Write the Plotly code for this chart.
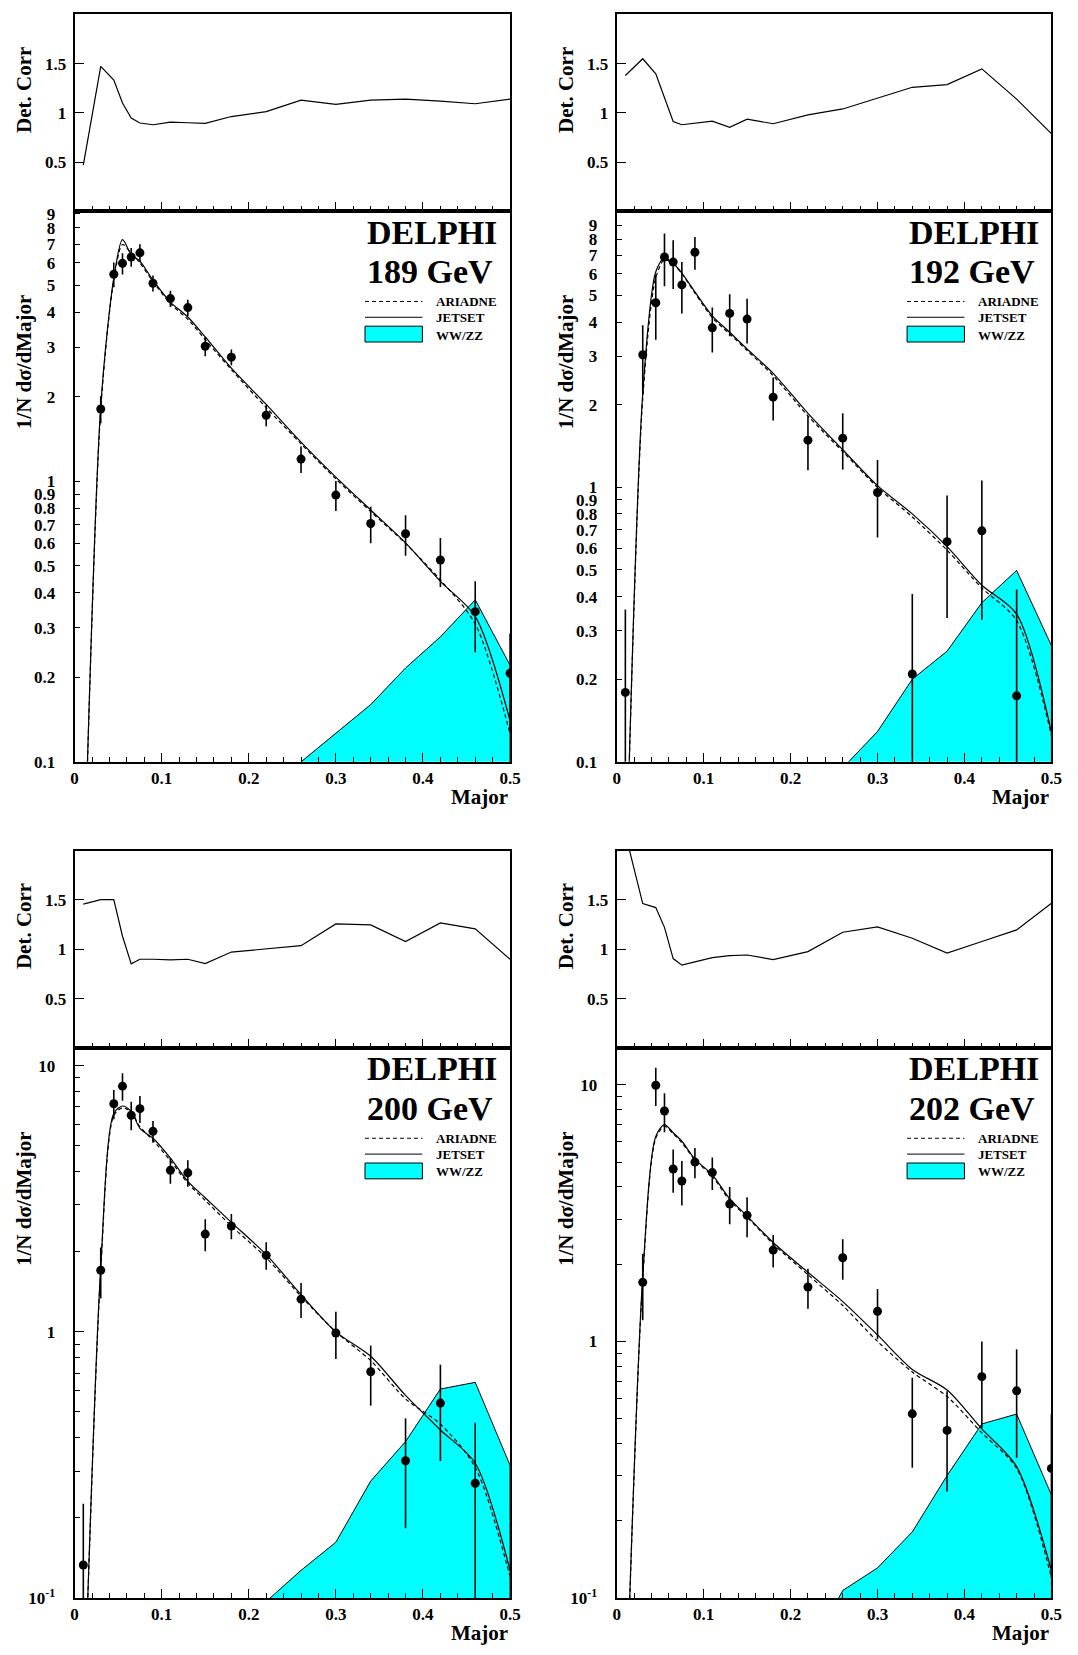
import plotly.graph_objects as go

W, H = 1078, 1655

# ---------------- data ----------------
bin_x = [0.01, 0.03, 0.045, 0.055, 0.065, 0.075, 0.09, 0.11, 0.13, 0.15,
         0.18, 0.22, 0.26, 0.30, 0.34, 0.38, 0.42, 0.46, 0.50]
ww_x = [0.18, 0.22, 0.26, 0.30, 0.34, 0.38, 0.42, 0.46, 0.50]

labels = ["189 GeV", "192 GeV", "200 GeV", "202 GeV"]

# 189 GeV
data_189 = [None, 1.81, 5.47, 5.98, 6.30, 6.52, 5.08, 4.48, 4.16, 3.03, 2.77, 1.72, 1.20, 0.893, 0.707, 0.650, 0.524, 0.343, 0.207]
err_189 = [None, 0.2, 0.55, 0.52, 0.48, 0.48, 0.33, 0.30, 0.28, 0.24, 0.18, 0.15, 0.13, 0.11, 0.105, 0.107, 0.104, 0.097, 0.08]
jetset_189 = [0.03, 1.85, 5.3, 7.27, 6.43, 6.09, 5.21, 4.35, 3.85, 3.27, 2.53, 1.88, 1.38, 1.035, 0.79, 0.603, 0.44, 0.33, 0.14]
ariadne_189 = [0.03, 1.8, 5.2, 6.98, 6.5, 6.0, 5.15, 4.3, 3.78, 3.2, 2.5, 1.83, 1.36, 1.02, 0.78, 0.60, 0.445, 0.31, 0.126]
ww_189 = [0.03, 0.05, 0.1, 0.126, 0.16, 0.216, 0.279, 0.378, 0.221]
corr_189 = [0.47, 1.473, 1.333, 1.10, 0.947, 0.897, 0.88, 0.907, 0.90, 0.893, 0.963, 1.013, 1.13, 1.087, 1.13, 1.14, 1.12, 1.093, 1.14]

# 192 GeV
data_192 = [0.179, 3.04, 4.70, 6.90, 6.61, 5.46, 7.18, 3.81, 4.30, 4.10, 2.13, 1.485, 1.51, 0.957, 0.209, 0.634, 0.694, 0.174, None]
err_192 = [0.18, 0.85, 1.25, 1.5, 1.33, 1.16, 0.98, 0.71, 0.75, 0.76, 0.38, 0.33, 0.35, 0.30, 0.2, 0.3, 0.365, 0.25, None]
jetset_192 = [0.03, 2.2, 6.1, 6.85, 6.55, 6.03, 5.15, 4.21, 3.67, 3.19, 2.6, 1.86, 1.37, 1.014, 0.80, 0.608, 0.44, 0.345, 0.128]
ariadne_192 = [0.03, 2.1, 5.8, 6.75, 6.5, 6.0, 5.1, 4.15, 3.62, 3.15, 2.55, 1.82, 1.35, 1.0, 0.78, 0.59, 0.43, 0.327, 0.125]
ww_192 = [0.04, 0.06, 0.095, 0.129, 0.20, 0.253, 0.38, 0.498, 0.265]
corr_192 = [1.38, 1.55, 1.397, 1.157, 0.913, 0.88, 0.897, 0.917, 0.853, 0.937, 0.89, 0.98, 1.04, 1.147, 1.26, 1.287, 1.447, 1.14, 0.79]

# 200 GeV
data_200 = [0.133, 1.705, 7.2, 8.38, 6.52, 6.90, 5.67, 4.05, 3.96, 2.33, 2.50, 1.94, 1.327, 0.99, 0.708, 0.328, 0.54, 0.27, None]
err_200 = [0.093, 0.37, 0.9, 1.0, 0.8, 0.8, 0.53, 0.45, 0.45, 0.32, 0.27, 0.23, 0.2, 0.2, 0.18, 0.145, 0.213, 0.186, None]
jetset_200 = [0.03, 1.75, 6.62, 7.06, 6.74, 5.82, 5.34, 4.5, 3.68, 3.19, 2.58, 1.95, 1.38, 1.0, 0.81, 0.577, 0.428, 0.321, 0.127]
ariadne_200 = [0.03, 1.7, 6.5, 6.95, 6.7, 5.9, 5.25, 4.4, 3.62, 3.12, 2.5, 1.9, 1.36, 1.0, 0.78, 0.56, 0.45, 0.31, 0.12]
ww_200 = [0.07, 0.097, 0.127, 0.162, 0.275, 0.387, 0.61, 0.646, 0.315]
corr_200 = [1.457, 1.503, 1.503, 1.133, 0.853, 0.90, 0.90, 0.893, 0.90, 0.857, 0.973, 1.003, 1.037, 1.257, 1.247, 1.08, 1.267, 1.207, 0.90]

# 202 GeV
data_202 = [None, 1.70, 9.97, 7.91, 4.70, 4.22, 5.0, 4.55, 3.43, 3.10, 2.27, 1.63, 2.12, 1.31, 0.522, 0.45, 0.729, 0.642, 0.32]
err_202 = [None, 0.49, 1.7, 1.37, 0.9, 0.83, 0.67, 0.66, 0.57, 0.55, 0.33, 0.29, 0.38, 0.29, 0.2, 0.19, 0.27, 0.29, 0.2]
jetset_202 = [0.03, 1.8, 6.3, 7.0, 6.51, 6.03, 5.14, 4.46, 3.6, 3.08, 2.43, 1.86, 1.43, 1.06, 0.778, 0.647, 0.456, 0.325, 0.128]
ariadne_202 = [0.03, 1.75, 6.2, 6.9, 6.45, 5.95, 5.1, 4.4, 3.55, 3.05, 2.4, 1.82, 1.38, 1.0, 0.76, 0.61, 0.44, 0.32, 0.12]
ww_202 = [0.04, 0.060, 0.107, 0.131, 0.181, 0.30, 0.477, 0.521, 0.252]
corr_202 = [2.17, 1.463, 1.423, 1.223, 0.907, 0.84, 0.873, 0.917, 0.937, 0.943, 0.897, 0.977, 1.173, 1.227, 1.113, 0.963, 1.08, 1.197, 1.467]

x_major = [0, 0.1, 0.2, 0.3, 0.4, 0.5]
x_major_text = ["0", "0.1", "0.2", "0.3", "0.4", "0.5"]
corr_ticks = [0.5, 1, 1.5]
corr_text = ["0.5", "1", "1.5"]
log_full_vals = [0.1, 0.2, 0.3, 0.4, 0.5, 0.6, 0.7, 0.8, 0.9, 1, 2, 3, 4, 5, 6, 7, 8, 9]
log_full_text = ["0.1", "0.2", "0.3", "0.4", "0.5", "0.6", "0.7", "0.8", "0.9", "1",
                 "2", "3", "4", "5", "6", "7", "8", "9"]
log_dec_vals = [0.1, 1, 10]
log_dec_text = ["10<sup>-1</sup>", "1", "10"]
log_minor_vals = [0.2, 0.3, 0.4, 0.5, 0.6, 0.7, 0.8, 0.9, 2, 3, 4, 5, 6, 7, 8, 9]

# ---------------- layout geometry (page pixels) ----------------
panels = [
    dict(x0=71.6, x1=513.2, rt=7.5, mt=206.5, mb=762.7, ytop=0.962, full=True,
         data=data_189, err=err_189, jet=jetset_189, ari=ariadne_189, ww=ww_189, corr=corr_189, lab=labels[0]),
    dict(x0=621.3, x1=1062.2, rt=7.5, mt=206.5, mb=762.7, ytop=1.005, full=True,
         data=data_192, err=err_192, jet=jetset_192, ari=ariadne_192, ww=ww_192, corr=corr_192, lab=labels[1]),
    dict(x0=71.6, x1=513.2, rt=852.3, mt=1052, mb=1607.5, ytop=1.066, full=False,
         data=data_200, err=err_200, jet=jetset_200, ari=ariadne_200, ww=ww_200, corr=corr_200, lab=labels[2]),
    dict(x0=621.3, x1=1062.2, rt=852.3, mt=1052, mb=1607.5, ytop=1.143, full=False,
         data=data_202, err=err_202, jet=jetset_202, ari=ariadne_202, ww=ww_202, corr=corr_202, lab=labels[3]),
]

FONT = "Liberation Serif"


def px(x):
    return x / W


def py(y):
    return 1 - y / H


def aname(kind, n):
    return f"{kind}axis" if n == 1 else f"{kind}axis{n}"


def aref(kind, n):
    return kind if n == 1 else f"{kind}{n}"


fig = go.Figure()
layout = dict(width=W, height=H, margin=dict(l=0, r=0, t=0, b=0), autosize=False,
              paper_bgcolor="white", plot_bgcolor="white", showlegend=False)
annotations = []
shapes = []

tickfont = dict(family=FONT, size=17, color="black", weight="bold")

for k, p in enumerate(panels):
    nr = 2 * k + 1
    nm = 2 * k + 2
    xd = [px(p["x0"]), px(p["x1"])]
    common_x = dict(domain=xd, range=[0, 0.5], showgrid=False, zeroline=False,
                    showline=True, linecolor="black", linewidth=2, mirror=True,
                    ticks="inside", ticklen=9, tickwidth=1, tickcolor="black",
                    tickmode="array", tickvals=x_major, ticktext=x_major_text,
                    minor=dict(ticks="inside", ticklen=5, tickwidth=1, tickcolor="black",
                               dtick=0.02, tick0=0),
                    tickfont=tickfont, ticklabelstandoff=0)
    # ratio panel
    layout[aname("x", nr)] = dict(common_x, anchor=aref("y", nr), showticklabels=False)
    layout[aname("y", nr)] = dict(domain=[py(p["mt"]), py(p["rt"])], range=[0, 2],
                                  anchor=aref("x", nr), showgrid=False, zeroline=False,
                                  showline=True, linecolor="black", linewidth=2, mirror=True,
                                  ticks="inside", ticklen=9, tickcolor="black",
                                  tickmode="array", tickvals=corr_ticks, ticktext=corr_text,
                                  tickfont=tickfont, ticklabelstandoff=3)
    # main panel
    layout[aname("x", nm)] = dict(common_x, anchor=aref("y", nm), showticklabels=True)
    ymain = dict(domain=[py(p["mb"]), py(p["mt"])], type="log", range=[-1, p["ytop"]],
                 anchor=aref("x", nm), showgrid=False, zeroline=False,
                 showline=True, linecolor="black", linewidth=2, mirror=True,
                 ticks="inside", tickcolor="black", tickfont=tickfont,
                 ticklabelstandoff=14, tickmode="array")
    if p["full"]:
        ymain.update(tickvals=log_full_vals, ticktext=log_full_text, ticklen=5)
    else:
        ymain.update(tickvals=log_dec_vals, ticktext=log_dec_text, ticklen=9,
                     minor=dict(ticks="inside", ticklen=5, tickcolor="black",
                                tickmode="array", tickvals=log_minor_vals))
    layout[aname("y", nm)] = ymain

    xr, yr = aref("x", nr), aref("y", nr)
    xm, ym = aref("x", nm), aref("y", nm)

    # detector correction line
    fig.add_trace(go.Scatter(x=bin_x, y=p["corr"], mode="lines", xaxis=xr, yaxis=yr,
                             line=dict(color="black", width=1.2)))
    # WW/ZZ background
    ww = p["ww"]
    fig.add_trace(go.Scatter(x=ww_x + ww_x[::-1], y=ww + [1e-4] * len(ww),
                             mode="lines", fill="toself", fillcolor="#00FFFF",
                             line=dict(color="black", width=1), xaxis=xm, yaxis=ym))
    # ARIADNE (dashed) and JETSET (solid)
    fig.add_trace(go.Scatter(x=bin_x, y=p["ari"], mode="lines", xaxis=xm, yaxis=ym,
                             line=dict(color="black", width=1.2, dash="4px,3px", shape="spline",
                                       smoothing=0.8)))
    fig.add_trace(go.Scatter(x=bin_x, y=p["jet"], mode="lines", xaxis=xm, yaxis=ym,
                             line=dict(color="black", width=1.2, shape="spline", smoothing=0.8)))
    # data
    fig.add_trace(go.Scatter(x=bin_x, y=p["data"], mode="markers", xaxis=xm, yaxis=ym,
                             marker=dict(color="black", size=9, symbol="circle"),
                             error_y=dict(type="data", array=p["err"], visible=True,
                                          color="black", thickness=1.6, width=0)))

    X0, Y0 = p["x0"], p["mt"]
    big = dict(family=FONT, size=34, color="black", weight="bold")
    annotations.append(dict(text="DELPHI", x=px(X0 + 294), y=py(Y0 + 21), xref="paper", yref="paper",
                            xanchor="left", yanchor="middle", showarrow=False, font=big))
    annotations.append(dict(text=p["lab"], x=px(X0 + 294), y=py(Y0 + 61), xref="paper", yref="paper",
                            xanchor="left", yanchor="middle", showarrow=False, font=big))
    leg_font = dict(family=FONT, size=13, color="black", weight="bold")
    for txt, dy in [("ARIADNE", 91), ("JETSET", 107), ("WW/ZZ", 125)]:
        annotations.append(dict(text=txt, x=px(X0 + 364), y=py(Y0 + dy), xref="paper", yref="paper",
                                xanchor="left", yanchor="middle", showarrow=False, font=leg_font))
    shapes.append(dict(type="line", xref="paper", yref="paper", x0=px(X0 + 294.5), x1=px(X0 + 352.7),
                       y0=py(Y0 + 91), y1=py(Y0 + 91), line=dict(color="black", width=1, dash="4px,3px")))
    shapes.append(dict(type="line", xref="paper", yref="paper", x0=px(X0 + 294.5), x1=px(X0 + 352.7),
                       y0=py(Y0 + 107), y1=py(Y0 + 107), line=dict(color="black", width=1)))
    shapes.append(dict(type="rect", xref="paper", yref="paper", x0=px(X0 + 294.5), x1=px(X0 + 352.7),
                       y0=py(Y0 + 132), y1=py(Y0 + 116), fillcolor="#00FFFF",
                       line=dict(color="black", width=1)))
    # axis titles
    title_x = X0 - 52
    tfont = dict(family=FONT, size=21, color="black", weight="bold")
    annotations.append(dict(text="Det. Corr", x=px(title_x), y=py(p["rt"] + 76), xref="paper", yref="paper",
                            xanchor="center", yanchor="middle", textangle=-90, showarrow=False, font=tfont))
    annotations.append(dict(text="1/N dσ/dMajor", x=px(title_x), y=py(Y0 + 152), xref="paper", yref="paper",
                            xanchor="center", yanchor="middle", textangle=-90, showarrow=False, font=tfont))
    annotations.append(dict(text="Major", x=px(p["x1"]), y=py(p["mb"] + 35), xref="paper", yref="paper",
                            xanchor="right", yanchor="middle", showarrow=False, font=tfont))

layout["annotations"] = annotations
layout["shapes"] = shapes
fig.update_layout(**layout)
fig.write_html("out.html", config={"displayModeBar": False},
               post_script="document.body.style.margin='0px';")
